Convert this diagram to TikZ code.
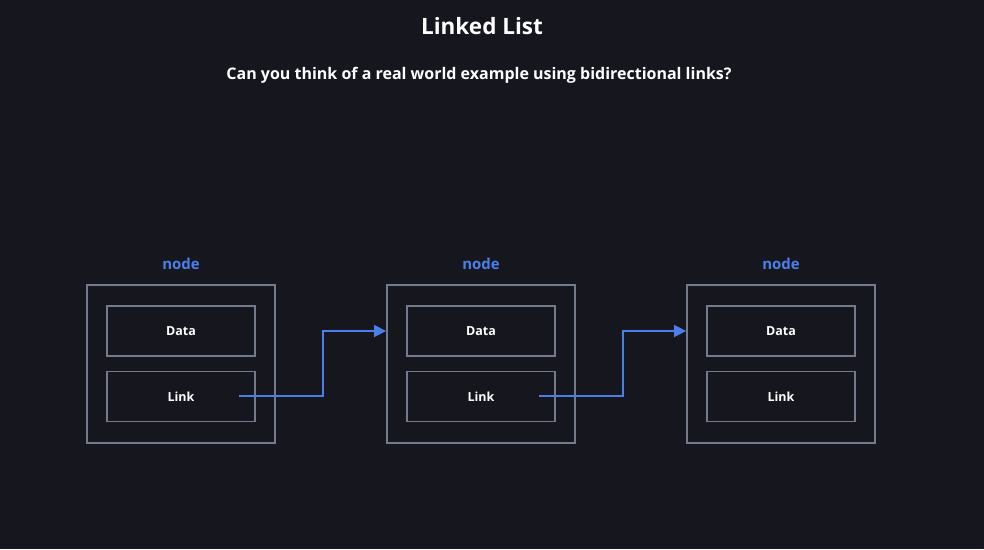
\documentclass[tikz,border=0pt]{standalone}
\usepackage{fontspec}
\setmainfont{Open Sans}
\usetikzlibrary{arrows.meta}
\definecolor{bg}{HTML}{16161F}
\definecolor{frame}{HTML}{737A8C}
\definecolor{linkblue}{HTML}{4A7FEA}
\newcommand{\sz}[1]{\fontsize{#1}{#1}\selectfont\bfseries}

\begin{document}
\begin{tikzpicture}[x=1pt,y=-1pt,
    outer/.style={draw=frame,line width=1.8pt,minimum width=188pt,minimum height=158pt},
    field/.style={draw=frame,line width=1.8pt,minimum width=148pt,minimum height=50pt,
      text=white,font=\sz{12.5}},
    tag/.style={text=linkblue,font=\sz{15}},
    link/.style={draw=linkblue,line width=1.5pt,-{Triangle[length=12pt,width=12pt]}}]
    \useasboundingbox[fill=bg] (0,0) rectangle (984,549);
    \node[text=white,font=\sz{22.5}] (title) at (482,26) {Linked List};
    \node[text=white,font=\sz{16}] (question) at (479,75)
      {Can you think of a real world example using bidirectional links?};
    \foreach \i/\x in {1/181,2/481,3/781} {
      \node[outer] (n\i) at (\x,364) {};
      \node[tag] (t\i) at (\x,264) {node};
      \node[field] (d\i) at (\x,331) {Data};
      \node[field] (l\i) at (\x,396.5) {Link};
      \coordinate (s\i) at (\x+58,396);
    }
    \draw[link] (s1) -- ++(84,0) |- (d2 -| n2.west);
    \draw[link] (s2) -- ++(84,0) |- (d3 -| n3.west);
\end{tikzpicture}
\end{document}
